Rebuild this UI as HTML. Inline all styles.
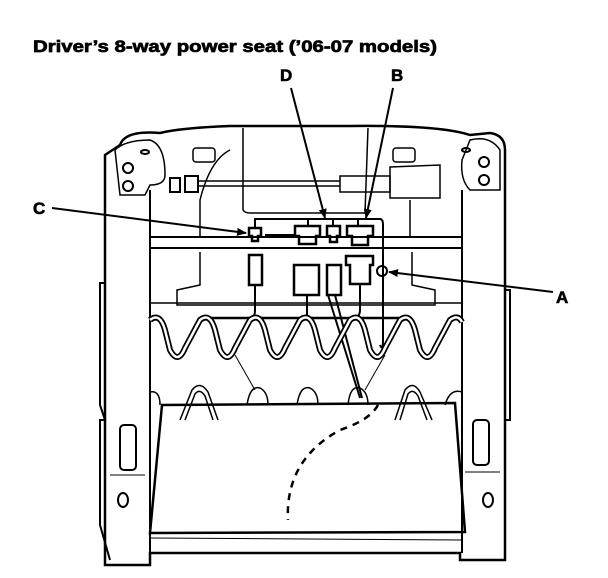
<!DOCTYPE html>
<html><head><style>
body{margin:0;background:#fff;}
svg{display:block}
text{font-family:"Liberation Sans",sans-serif;font-weight:bold;fill:#000}
</style></head><body>
<svg width="608" height="578" viewBox="0 0 608 578" xmlns="http://www.w3.org/2000/svg">
<defs><marker id="ah" markerWidth="10" markerHeight="8" refX="9" refY="4" orient="auto" markerUnits="userSpaceOnUse"><path d="M0,0 L10,4 L0,8 Z" fill="#000"/></marker></defs>
<text x="33" y="52" font-size="17" textLength="404" lengthAdjust="spacingAndGlyphs" stroke="#000" stroke-width="0.7">Driver’s 8-way power seat (’06-07 models)</text>
<text x="280" y="81" font-size="17" stroke="#000" stroke-width="0.6">D</text>
<text x="391" y="81" font-size="17" stroke="#000" stroke-width="0.6">B</text>
<text x="33" y="214" font-size="17" stroke="#000" stroke-width="0.6">C</text>
<text x="556" y="303" font-size="17" stroke="#000" stroke-width="0.6">A</text>
<g stroke="#000" fill="none" stroke-width="2">
<path d="M105,155 L105,565 L150,565 L150,553 L460,553 L460,560 L505,560 L505,150 Q505,135 490,133 L470,135 Q440,125 350,126 L230,126 Q180,128 160,133 Q125,130 120,145 L105,155 Z" stroke-width="2.5"/>
<line x1="150" y1="190" x2="150" y2="553"/>
<line x1="462" y1="190" x2="462" y2="553"/>
<path d="M105,283 L100,283 L100,405 L105,420 L100,420 L100,525 L110,560"/>
<path d="M505,290 L510,290 L510,420 L505,420 L505,520"/>
<rect x="120" y="425" width="16" height="45" rx="4"/>
<rect x="473" y="420" width="16" height="45" rx="4"/>
<ellipse cx="123" cy="500" rx="5" ry="7"/>
<ellipse cx="488" cy="500" rx="5" ry="7"/>
<line x1="110" y1="475" x2="145" y2="475" stroke-width="1"/>
<line x1="465" y1="472" x2="500" y2="472" stroke-width="1"/>
<path d="M115,150 Q125,140 150,140 Q165,145 165,175 Q165,185 150,185 L145,195 L120,195 Z" stroke-width="1.5"/>
<circle cx="128" cy="168" r="5"/><circle cx="128" cy="186" r="5"/>
<ellipse cx="145" cy="152" rx="4" ry="2"/>
<path d="M470,140 Q490,135 500,150 L500,190 L470,190 Q460,180 462,160 Z" stroke-width="1.5"/>
<circle cx="484" cy="162" r="5"/><circle cx="484" cy="180" r="5"/>
<ellipse cx="466" cy="150" rx="4" ry="2"/>
<path d="M243,128 L243,210 Q245,213 250,213 L365,213 L368,128" stroke-width="1.5"/>
<rect x="193" y="148" width="22" height="14" rx="3" stroke-width="1.5"/>
<rect x="393" y="148" width="22" height="14" rx="3" stroke-width="1.5"/>
<path d="M390,167 L440,165 L440,198 L390,198 Z" stroke-width="1.5"/>
<path d="M170,178 L180,178 L180,192 L170,192 Z"/>
<path d="M185,176 L198,176 L198,192 L185,192 Z"/>
<line x1="198" y1="181" x2="340" y2="181" stroke-width="1.5"/>
<line x1="198" y1="186" x2="340" y2="186" stroke-width="1.5"/>
<path d="M340,176 L390,176 L390,192 L340,192 Z" stroke-width="1.5"/>
<line x1="200" y1="200" x2="200" y2="237" stroke-width="1.5"/>
<line x1="410" y1="200" x2="410" y2="237" stroke-width="1.5"/>
<path d="M200,200 Q210,160 230,150" stroke-width="1.5"/>
<line x1="150" y1="237" x2="462" y2="237"/>
<line x1="150" y1="248" x2="462" y2="248"/>
<path d="M200,252 L200,285 L177,290 L177,305 L435,305 L435,290 L412,285 L412,252" stroke-width="1.5"/>
<line x1="150" y1="303" x2="462" y2="303" stroke-width="1.5"/>
<path d="M255,228 L255,219 L380,219 Q383,219 383,225 L383,340 Q383,352 380,345" stroke-width="2"/>
<line x1="265" y1="235" x2="295" y2="235"/>
<line x1="308" y1="219" x2="308" y2="227"/><line x1="333" y1="219" x2="333" y2="227"/><line x1="358" y1="219" x2="358" y2="227"/>
<line x1="200" y1="318" x2="400" y2="318" stroke-width="2.5"/>
<path d="M249,228 L261,228 L261,236 L258,236 L258,241 L252,241 L252,236 L249,236 Z" stroke-width="2.5"/>
<path d="M295,226 L320,226 L320,236 L316,236 L316,244 L299,244 L299,236 L295,236 Z" stroke-width="2.5"/>
<path d="M327,226 L340,226 L340,236 L337,236 L337,242 L330,242 L330,236 L327,236 Z" stroke-width="2.5"/>
<path d="M347,226 L373,226 L373,236 L368,236 L368,245 L352,245 L352,236 L347,236 Z" stroke-width="2.5"/>
<rect x="249" y="255" width="13" height="30" stroke-width="2.5"/>
<rect x="294" y="265" width="25" height="30" stroke-width="2.5"/>
<rect x="327" y="265" width="14" height="30" stroke-width="2.5"/>
<path d="M346,256 L373,256 L373,265 L370,265 L370,284 L350,284 L350,265 L346,265 Z" stroke-width="2.5"/>
<circle cx="382" cy="271" r="5"/>
<path d="M255,285 L255,310 Q255,318 250,318" /><line x1="307" y1="295" x2="307" y2="318"/><path d="M360,284 L360,310 Q360,318 352,318"/>
<path d="M335,295 L362,398"/><path d="M328,295 L360,398"/>
<path d="M150,320 Q160,312 165,330 L170,350 Q178,365 185,348 L200,320 Q210,312 215,330 L220,350 Q228,365 235,348 L250,320 Q260,312 265,330 L270,350 Q278,365 285,348 L300,320 Q310,312 315,330 L320,350 Q328,365 335,348 L350,320 Q360,312 365,330 L370,350 Q378,365 385,348 L400,320 Q410,312 415,330 L420,350 Q428,365 435,348 L450,320 Q458,314 462,322" stroke-width="6"/>
<path d="M150,320 Q160,312 165,330 L170,350 Q178,365 185,348 L200,320 Q210,312 215,330 L220,350 Q228,365 235,348 L250,320 Q260,312 265,330 L270,350 Q278,365 285,348 L300,320 Q310,312 315,330 L320,350 Q328,365 335,348 L350,320 Q360,312 365,330 L370,350 Q378,365 385,348 L400,320 Q410,312 415,330 L420,350 Q428,365 435,348 L450,320 Q458,314 462,322" stroke="#fff" stroke-width="2.5"/>
<line x1="235" y1="355" x2="255" y2="390" stroke-width="1"/>
<line x1="385" y1="355" x2="365" y2="390" stroke-width="1"/>
<g stroke-width="1.5">
<path d="M160,405 Q160,390 150,392"/>
<path d="M247,405 Q250,385 260,388 Q268,392 268,405"/>
<path d="M297,405 Q300,385 310,388 Q318,392 318,405"/>
<path d="M348,405 Q350,385 360,388 Q368,392 368,405"/>
<path d="M445,405 Q450,388 462,392"/>
<path d="M180,420 L192,390 Q200,380 208,392 L218,420"/>
<path d="M185,420 L195,394 Q200,388 205,396 L213,420"/>
<path d="M395,420 L405,390 Q413,380 420,392 L432,420"/>
<path d="M400,420 L408,394 Q413,388 418,396 L427,420"/>
</g>
<path d="M162,405 L455,403 L465,532 L150,533 Z" stroke-width="2.5"/>
<line x1="150" y1="538" x2="462" y2="540" stroke-width="1"/>
<path d="M378,405 Q370,420 340,430 Q285,460 288,520" stroke-width="2.5" stroke-dasharray="7,6"/>
<line x1="291" y1="88" x2="325" y2="218" marker-end="url(#ah)"/>
<line x1="393" y1="88" x2="366" y2="218" marker-end="url(#ah)"/>
<line x1="52" y1="208" x2="246" y2="233" marker-end="url(#ah)"/>
<line x1="553" y1="292" x2="389" y2="272" marker-end="url(#ah)"/>
</g>
</svg>
</body></html>
